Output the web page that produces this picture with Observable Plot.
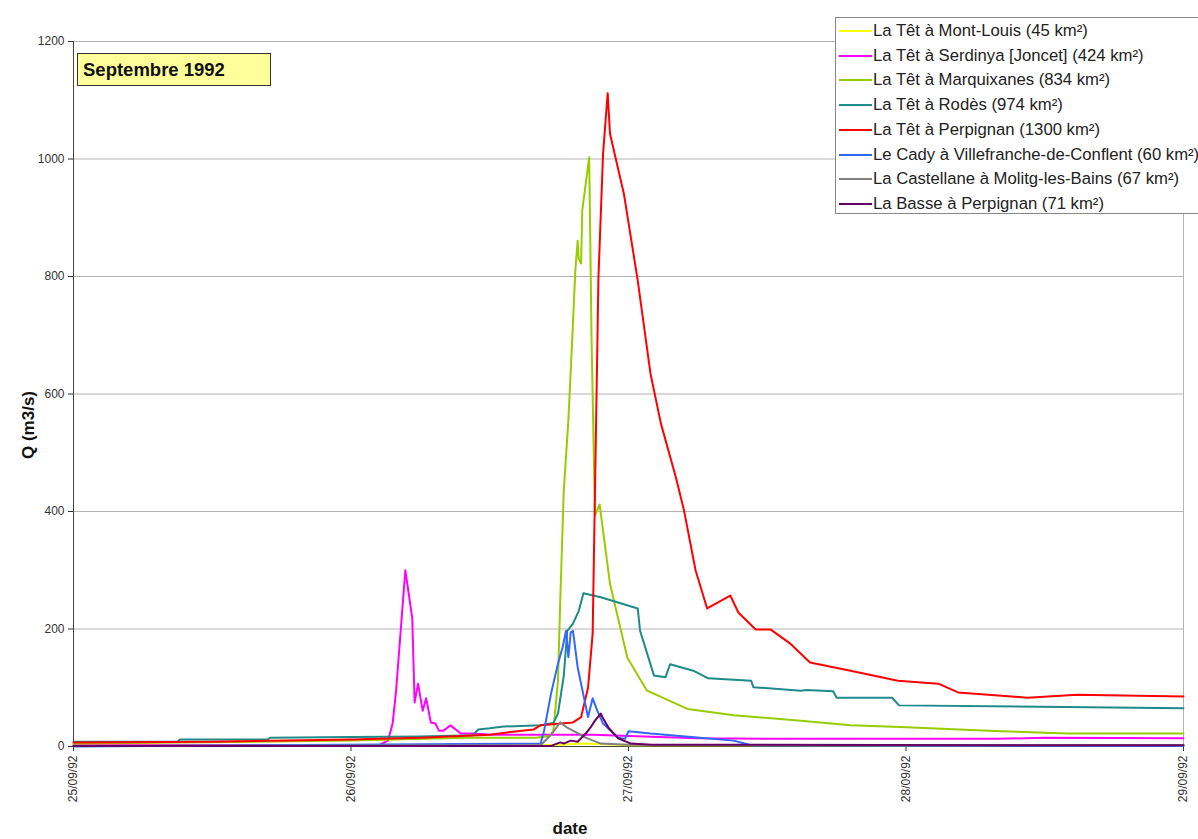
<!DOCTYPE html>
<html><head><meta charset="utf-8">
<script src="https://cdn.jsdelivr.net/npm/d3@7"></script>
<script src="https://cdn.jsdelivr.net/npm/@observablehq/plot@0.6"></script>
<style>
body{margin:0;background:#fff;font-family:"Liberation Sans",Arial,sans-serif;overflow:hidden}
#wrap{position:relative;width:1198px;height:839px;overflow:hidden;background:#fff}
#chart{position:absolute;left:0;top:0}
#title{position:absolute;left:77px;top:53px;width:192px;height:31px;background:#ffff99;border:1px solid #333;box-sizing:content-box;font-weight:bold;font-size:18.5px;line-height:31px;color:#111}
#title span{position:absolute;left:5px;top:0}
#legend{position:absolute;left:835px;top:17px;width:400px;height:195px;background:#fff;border:1px solid #888;white-space:nowrap}
.item{position:absolute;left:0;height:24px;font-size:16.7px;color:#222;line-height:24px}
.sw{position:absolute;left:3px;top:11px;width:33px;height:2px}
.lab{position:absolute;left:37px;top:0}
</style></head><body><div id="wrap"><div id="chart"></div><div id="title"><span></span></div><div id="legend"></div></div>
<script>
// ---- data (hours since 25/09/92 00:00, Q in m3/s) ----
const titleText = "Septembre 1992";
const seriesNames = [
  "La Têt à Mont-Louis (45 km²)",
  "La Têt à Serdinya [Joncet] (424 km²)",
  "La Têt à Marquixanes (834 km²)",
  "La Têt à Rodès (974 km²)",
  "La Têt à Perpignan (1300 km²)",
  "Le Cady à Villefranche-de-Conflent (60 km²)",
  "La Castellane à Molitg-les-Bains (67 km²)",
  "La Basse à Perpignan (71 km²)"
];
const seriesColors = ["#ffff00", "#ff00ff", "#99cc00", "#1f8a8a", "#ff0000", "#3366ff", "#808080", "#660066"];

const montLouis = [[0,2],[40,2],[42,3],[44,5],[46,4],[48,2],[96,2]];
const serdinya = [[0,2],[25.5,2],[26.5,3],[27.2,10],[27.6,39],[27.9,95],[28.7,300],[29.3,218],[29.5,75],[29.8,107],[30.2,61],[30.5,82],[30.9,41],[31.3,39],[31.6,27],[32.0,27],[32.6,36],[33.5,22],[34.6,22],[36.1,20],[40,20],[45,20],[48,18],[54,14],[60,13],[72,13],[80,13],[84,15],[96,14]];
const marquixanes = [[0,5],[24,10],[34,15],[40,15],[41.2,18],[41.5,27],[41.9,112],[42.1,250],[42.4,435],[42.8,555],[43.1,679],[43.4,810],[43.6,861],[43.7,830],[43.9,822],[44.0,912],[44.6,1003],[44.8,700],[45.1,393],[45.5,412],[46.4,277],[47.9,151],[49.6,95],[53.1,64],[57.1,53],[62.9,44],[67.2,36],[71.5,33],[80.2,26],[86,22],[96,22]];
const rodes = [[0,8],[9.0,8],[9.2,12],[16.8,12],[17,15],[24,16],[30,17],[34.5,19],[35,29],[36,31],[37.2,34],[40.4,36],[41.5,40],[41.9,56],[42.4,120],[42.7,197],[43.2,209],[43.7,231],[44.1,261],[45.6,254],[47.1,245],[48.8,235],[49.0,197],[50.2,121],[51.2,118],[51.6,140],[53.6,129],[54.9,116],[58.6,112],[58.8,101],[62.9,95],[63.4,96],[65.7,94],[66.0,83],[70.8,83],[71.4,70],[96,65]];
const perpignan = [[0,7],[12,8],[24,12],[30,15],[36,20],[37.5,24],[39.8,29],[40.4,36],[43.2,41],[43.9,50],[44.5,100],[44.9,192],[45.2,555],[45.4,798],[45.8,1009],[46.2,1112],[46.4,1043],[47.6,941],[48.8,793],[49.9,635],[50.8,550],[52.1,458],[52.8,402],[53.8,300],[54.8,235],[56.8,257],[57.5,228],[59.0,199],[60.3,199],[62.0,175],[63.7,143],[67.2,129],[71.3,112],[74.8,107],[76.5,92],[82.5,83],[86.8,88],[96,85]];
const cady = [[0,0],[40.4,5],[40.7,27],[41.3,90],[41.9,141],[42.3,169],[42.6,197],[42.8,152],[43.0,194],[43.2,197],[43.6,135],[44.5,50],[44.9,82],[45.3,61],[45.8,39],[47.1,15],[47.7,13],[48.0,26],[49.9,22],[54.2,15],[57.1,10],[58.6,2],[96,1]];
const castellane = [[0,1],[40.4,2],[41.3,20],[42.1,41],[42.7,32],[43.2,27],[44.3,15],[45.6,5],[48,3],[96,2]];
const basse = [[0,1],[41.3,1],[42.1,7],[42.4,5],[43.0,10],[43.6,8],[44.3,22],[44.7,32],[45.1,44],[45.6,56],[45.8,48],[46.3,31],[47.1,14],[48.2,5],[50,3],[96,2]];

const tickDates = ["1992-09-25","1992-09-26","1992-09-27","1992-09-28","1992-09-29"];
const tickLabels = ["25/09/92","26/09/92","27/09/92","28/09/92","29/09/92"];
const yTicks = [0,200,400,600,800,1000,1200];
const xLabel = "date";
const yLabel = "Q (m3/s)";

// ---- build ----
const allSeries = [montLouis, serdinya, marquixanes, rodes, perpignan, cady, castellane, basse];
const t0 = Date.UTC(1992, 8, 25);
const rows = allSeries.flatMap((pts, i) => pts.map(([h, q]) => ({name: seriesNames[i], t: new Date(t0 + h * 3600e3), q})));
const tickD = tickDates.map(s => new Date(s + "T00:00:00Z"));
const xDomain = [tickD[0], tickD[tickD.length - 1]];

const chart = Plot.plot({
  width: 1198, height: 839,
  marginLeft: 73, marginRight: 15, marginTop: 41, marginBottom: 93,
  style: {fontFamily: "Liberation Sans, Arial, sans-serif", fontSize: "12px", color: "#333", background: "transparent"},
  x: {type: "utc", domain: xDomain, ticks: tickD, tickFormat: d => tickLabels[tickD.findIndex(t => +t === +d)], tickRotate: -90, tickSize: 5, label: null},
  y: {domain: [0, 1200], ticks: yTicks, tickFormat: d => String(d), tickSize: 5, label: null},
  color: {domain: seriesNames, range: seriesColors},
  marks: [
    Plot.gridY(yTicks.slice(1), {stroke: "#b3b3b3", strokeOpacity: 1}),
    Plot.ruleX([xDomain[1]], {stroke: "#b3b3b3"}),
    Plot.ruleY([0], {stroke: "#444"}),
    Plot.ruleX([xDomain[0]], {stroke: "#444"}),
    Plot.line(rows, {x: "t", y: "q", z: "name", stroke: "name", strokeWidth: 2})
  ]
});
document.getElementById("chart").append(chart);

// axis titles
const svg = d3.select(chart.tagName.toLowerCase() === "svg" ? chart : chart.querySelector("svg"));
svg.append("text").attr("transform", "translate(30,425) rotate(-90)")
  .attr("text-anchor", "middle").attr("dominant-baseline", "middle")
  .attr("font-weight", "bold").attr("font-size", 17).attr("fill", "#111").text(yLabel);
svg.append("text").attr("x", 570).attr("y", 830)
  .attr("text-anchor", "middle").attr("dominant-baseline", "middle")
  .attr("font-weight", "bold").attr("font-size", 17).attr("fill", "#111").text(xLabel);

document.querySelector("#title span").textContent = titleText;

const leg = document.getElementById("legend");
seriesNames.forEach((n, i) => {
  const it = document.createElement("div");
  it.className = "item";
  it.style.top = (1 + i * 24.7) + "px";
  it.innerHTML = `<div class="sw" style="background:${seriesColors[i]}"></div><div class="lab"></div>`;
  it.querySelector(".lab").textContent = n;
  leg.append(it);
});
</script>
</body></html>
